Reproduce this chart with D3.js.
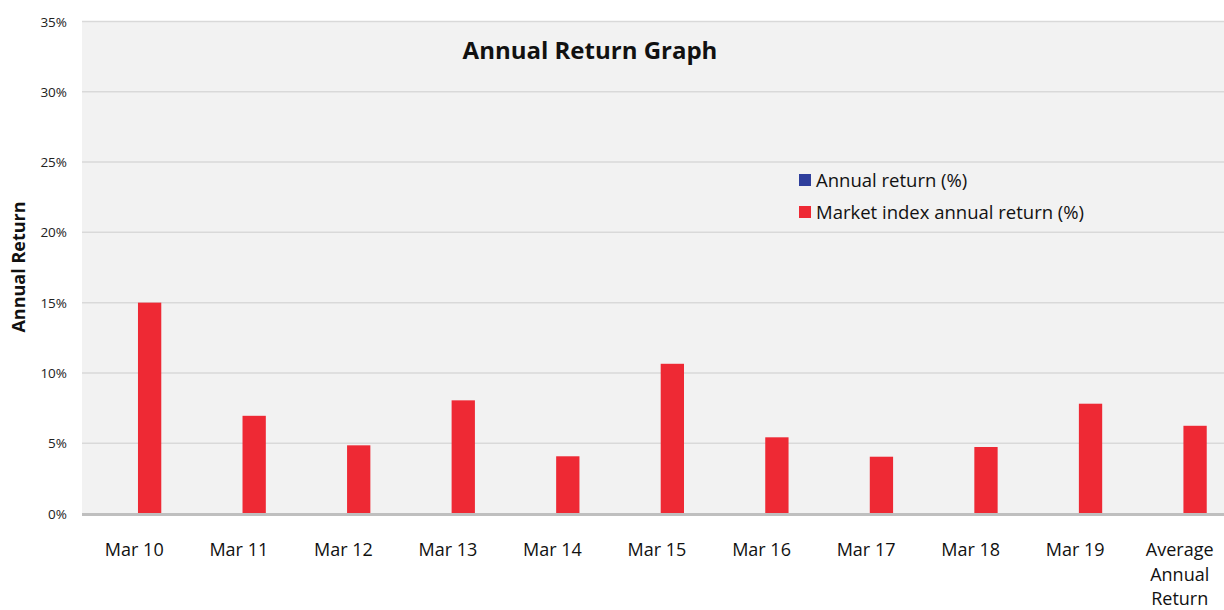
<!DOCTYPE html>
<html>
<head>
<meta charset="utf-8">
<script src="https://cdn.jsdelivr.net/npm/d3@7"></script>
<style>
  body { margin: 0; background: #fff; overflow: hidden; }
  svg { font-family: "Open Sans", "Noto Sans", sans-serif; }
</style>
</head>
<body>
<div id="chart"></div>
<script>
const categories = ["Mar 10", "Mar 11", "Mar 12", "Mar 13", "Mar 14", "Mar 15",
    "Mar 16", "Mar 17", "Mar 18", "Mar 19", "Average Annual Return"];
const seriesNames = ["Annual return (%)", "Market index annual return (%)"];
const annualReturn = [0, 0, 0, 0, 0, 0, 0, 0, 0, 0, 0];
const marketReturn = [15.0, 6.95, 4.85, 8.05, 4.07, 10.65, 5.42, 4.04, 4.73, 7.81, 6.24];
const yTicks = [0, 5, 10, 15, 20, 25, 30, 35];
const colors = ["#2f3f9c", "#ee2934"];

const width = 1224;
const height = 610;
const margin = { top: 21.5, right: -8, bottom: 96.5, left: 82 };

const svg = d3.select("#chart")
    .append("svg")
    .attr("width", width)
    .attr("height", height);

const x0 = d3.scaleBand()
    .domain(categories)
    .range([margin.left, width - margin.right])
    .padding(0);

const bw = x0.bandwidth();
const barW = 23.3;
const x1 = d3.scaleBand()
    .domain(seriesNames)
    .range([bw / 2 + 3.7 - barW, bw / 2 + 3.7 + barW])
    .padding(0);

const y = d3.scaleLinear()
    .domain([0, 35])
    .range([height - margin.bottom, margin.top]);

// Plot background
svg.append("rect")
    .attr("x", margin.left)
    .attr("y", y(35))
    .attr("width", width - margin.left)
    .attr("height", y(0) - y(35) + 2)
    .attr("fill", "#f2f2f2");

// Gridlines
svg.append("g")
    .selectAll("line")
    .data(yTicks.filter(d => d > 0))
    .enter()
    .append("line")
    .attr("x1", margin.left)
    .attr("x2", width)
    .attr("y1", d => y(d))
    .attr("y2", d => y(d))
    .attr("stroke", "#d9d9d9")
    .attr("stroke-width", 1.5);

// Y tick labels
svg.append("g")
    .selectAll("text")
    .data(yTicks)
    .enter()
    .append("text")
    .attr("x", 67)
    .attr("y", d => y(d) + 5)
    .attr("text-anchor", "end")
    .attr("font-size", "13.5px")
    .attr("fill", "#222")
    .text(d => d + "%");

// Bars
const rows = categories.map((c, i) => ({ cat: c, values: [annualReturn[i], marketReturn[i]] }));

svg.append("g")
    .selectAll("g")
    .data(rows)
    .enter()
    .append("g")
    .attr("transform", d => `translate(${x0(d.cat)},0)`)
    .selectAll("rect")
    .data(d => d.values.map((v, j) => ({ name: seriesNames[j], value: v, color: colors[j] })))
    .enter()
    .append("rect")
    .attr("x", d => x1(d.name))
    .attr("y", d => y(d.value))
    .attr("width", x1.bandwidth())
    .attr("height", d => y(0) - y(d.value))
    .attr("fill", d => d.color);

// Baseline
svg.append("line")
    .attr("x1", margin.left)
    .attr("x2", width)
    .attr("y1", y(0) + 1)
    .attr("y2", y(0) + 1)
    .attr("stroke", "#bfbfbf")
    .attr("stroke-width", 3);

// X labels
const xAxisLabels = svg.append("g")
    .selectAll("text")
    .data(categories)
    .enter()
    .append("text")
    .attr("x", d => x0(d) + bw / 2)
    .attr("y", 556)
    .attr("text-anchor", "middle")
    .attr("font-size", "18px")
    .attr("fill", "#111");

xAxisLabels.each(function (d) {
    const words = d === "Average Annual Return" ? d.split(" ") : [d];
    const t = d3.select(this);
    words.forEach((w, i) => {
        t.append("tspan")
            .attr("x", x0(d) + bw / 2)
            .attr("dy", i === 0 ? 0 : 24.5)
            .text(w);
    });
});

// Title
svg.append("text")
    .attr("x", 590)
    .attr("y", 59)
    .attr("text-anchor", "middle")
    .attr("font-size", "24px")
    .attr("font-weight", "bold")
    .attr("fill", "#111")
    .text("Annual Return Graph");

// Y axis title
svg.append("text")
    .attr("transform", "translate(25,267) rotate(-90)")
    .attr("text-anchor", "middle")
    .attr("font-size", "18px")
    .attr("font-weight", "bold")
    .attr("fill", "#111")
    .text("Annual Return");

// Legend
const legend = svg.append("g")
    .selectAll("g")
    .data(seriesNames)
    .enter()
    .append("g")
    .attr("transform", (d, i) => `translate(799,${174 + i * 32})`);

legend.append("rect")
    .attr("width", 12)
    .attr("height", 12)
    .attr("fill", (d, i) => colors[i]);

legend.append("text")
    .attr("x", 17)
    .attr("y", 12.5)
    .attr("font-size", "18.5px")
    .attr("fill", "#111")
    .text(d => d);
</script>
</body>
</html>
